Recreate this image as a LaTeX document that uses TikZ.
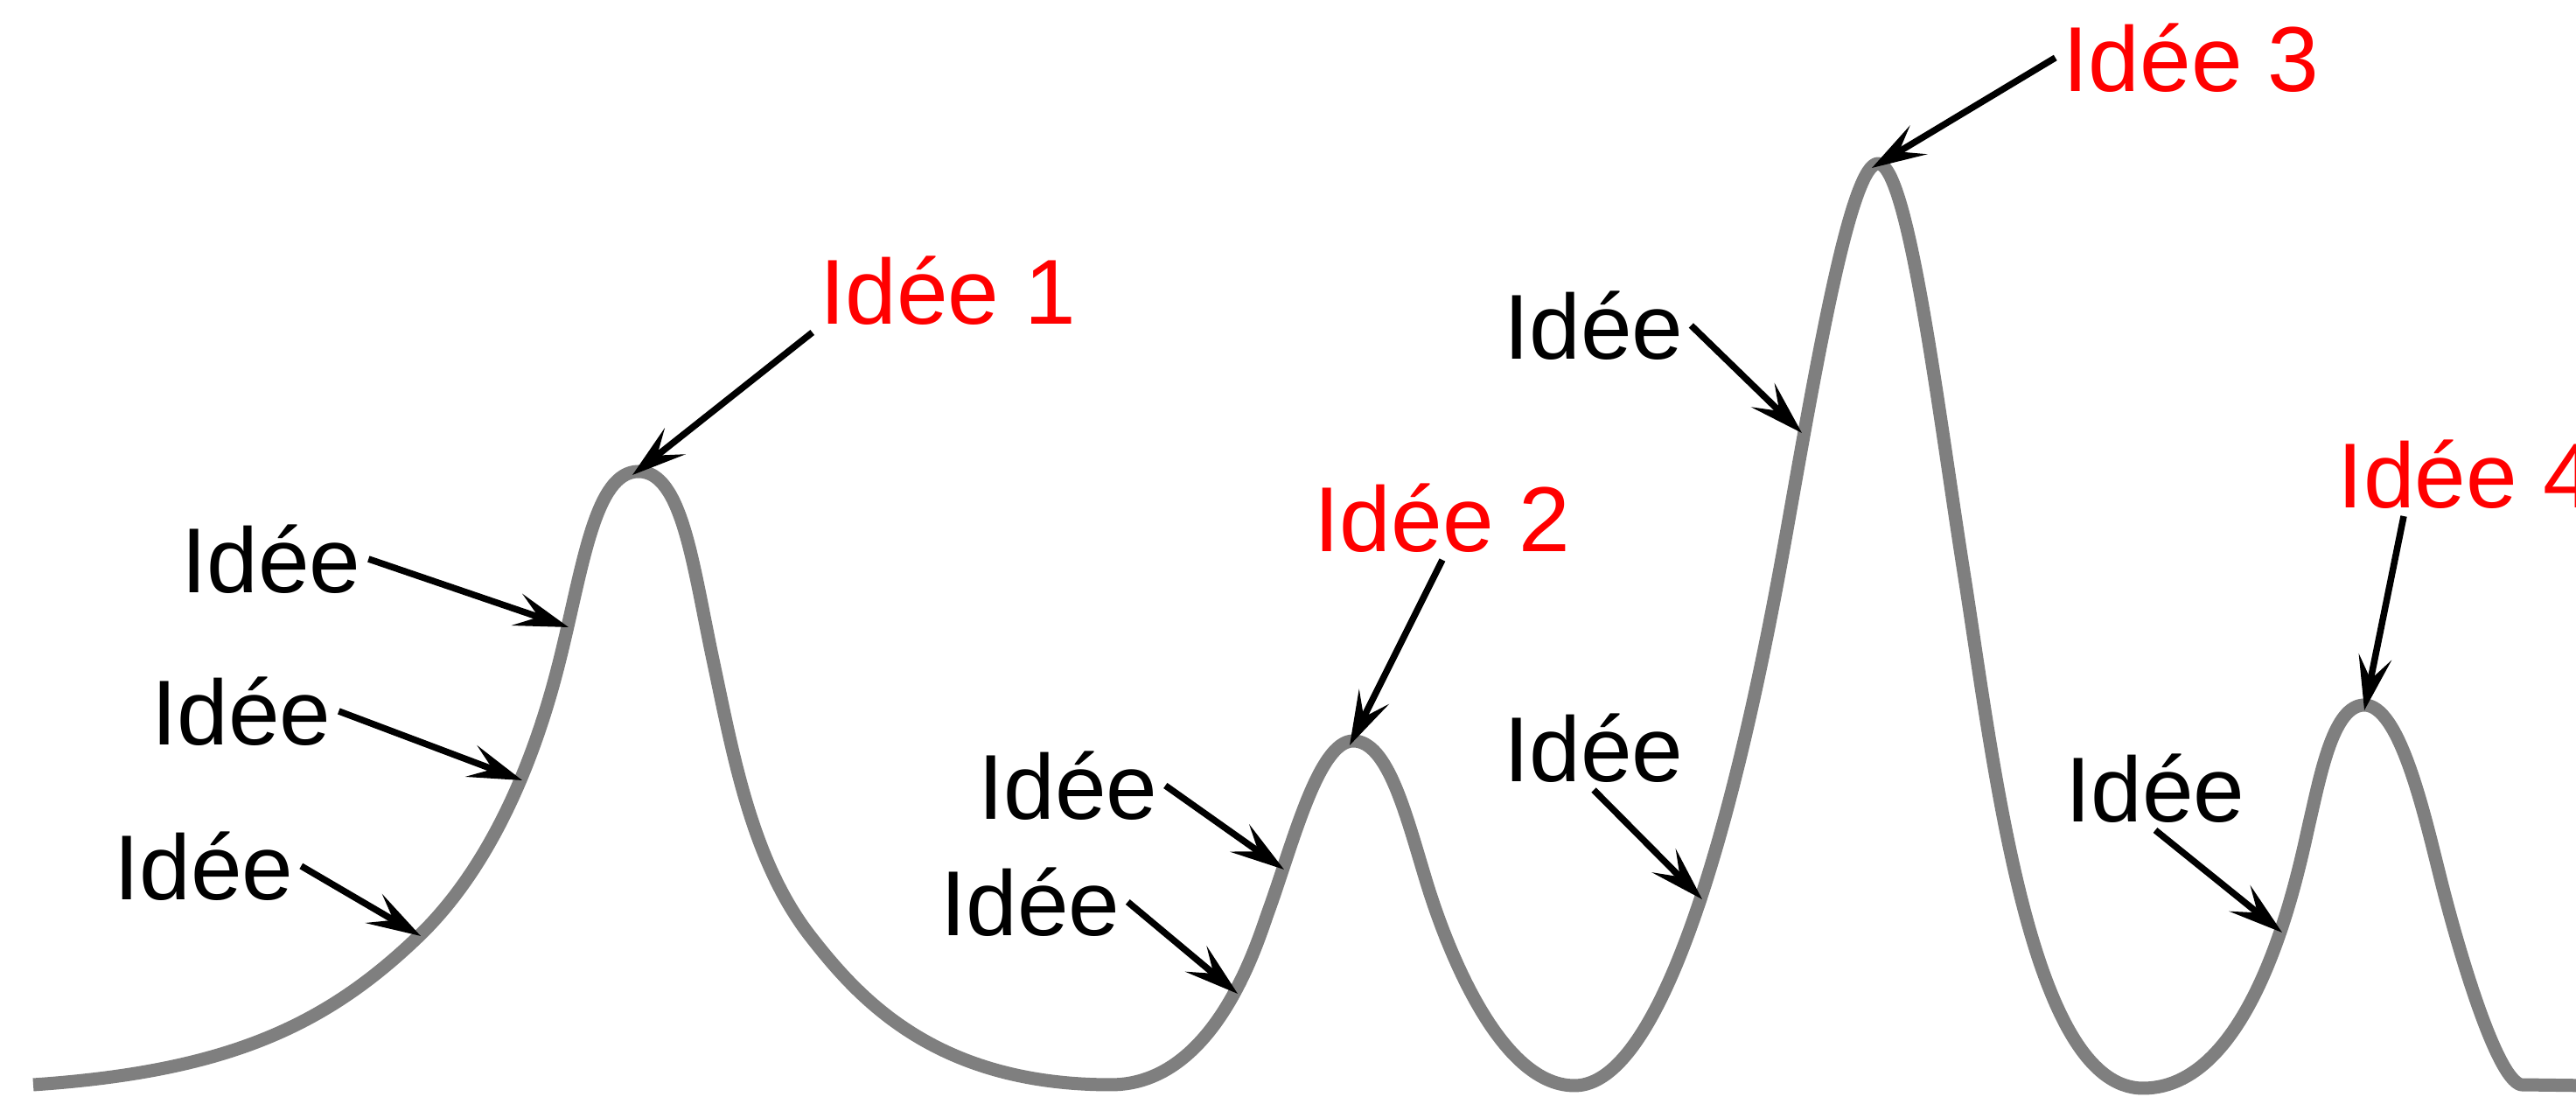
\documentclass[tikz,border=0pt]{standalone}
\usepackage{fontspec}
\setmainfont{Liberation Sans}
\usetikzlibrary{arrows.meta}
\definecolor{ideaRed}{HTML}{FF0000}
\definecolor{curveGray}{HTML}{7F7F7F}

\begin{document}
\begin{tikzpicture}[
  curve/.style={
    draw=curveGray,
    line width=0.15cm,
    line join=round
  },
  idea/.style={
    font=\fontsize{30}{36}\selectfont,
    inner sep=0.08cm
  },
  best/.style={
    idea,
    text=ideaRed
  },
  arrow/.style={
    -{Stealth[length=6.2mm, width=3.8mm, inset=2.6mm]},
    draw=black,
    line width=0.075cm
  }
]
\useasboundingbox (0,0) rectangle (29.45,12.54);

% the line of ideas, hump by hump
\draw[curve] (0.38,0.14)
  .. controls (2.58,0.29) and (3.71,0.80) .. (4.79,1.84)
  .. controls (5.797,2.813) and (6.231,4.321) .. (6.40,5.00)
  .. controls (6.666,6.067) and (6.80,7.15) .. (7.30,7.15)
  .. controls (7.80,7.15) and (7.921,6.076) .. (8.15,5.00)
  .. controls (8.379,3.924) and (8.592,2.697) .. (9.27,1.83)
  .. controls (9.824,1.121) and (10.70,0.14) .. (12.70,0.14)
  .. controls (13.90,0.14) and (14.38,1.791) .. (14.50,2.12)
  .. controls (14.774,2.872) and (15.07,4.07) .. (15.47,4.07)
  .. controls (15.87,4.07) and (16.076,3.215) .. (16.31,2.45)
  .. controls (16.485,1.876) and (17.10,0.13) .. (18.00,0.13)
  .. controls (19.30,0.13) and (20.206,5.221) .. (20.45,6.60)
  .. controls (20.798,8.57) and (21.17,10.67) .. (21.47,10.67)
  .. controls (21.82,10.67) and (22.169,7.778) .. (22.45,6.00)
  .. controls (22.793,3.826) and (23.20,0.10) .. (24.50,0.10)
  .. controls (25.80,0.10) and (26.288,2.643) .. (26.40,3.13)
  .. controls (26.535,3.714) and (26.68,4.48) .. (27.03,4.48)
  .. controls (27.43,4.48) and (27.706,3.276) .. (27.90,2.50)
  .. controls (28.094,1.724) and (28.53,0.218) .. (28.82,0.14)
  -- (29.6,0.13);

% where the arrows land
\coordinate (tipA) at (6.50,5.37);
\coordinate (tipB) at (5.97,3.62);
\coordinate (tipC) at (4.81,1.84);
\coordinate (tipD) at (14.68,2.60);
\coordinate (tipE) at (14.15,1.18);
\coordinate (tipF) at (20.60,7.59);
\coordinate (tipG) at (19.46,2.26);
\coordinate (tipH) at (26.09,1.88);
\coordinate (top1) at (7.23,7.11);
\coordinate (top2) at (15.43,4.02);
\coordinate (top3) at (21.40,10.62);
\coordinate (top4) at (27.03,4.42);

% small ideas
\node[idea] (ideaA) at (3.10,6.15) {Idée};
\node[idea] (ideaB) at (2.76,4.41) {Idée};
\node[idea] (ideaC) at (2.33,2.64) {Idée};
\node[idea] (ideaD) at (12.21,3.56) {Idée};
\node[idea] (ideaE) at (11.78,2.23) {Idée};
\node[idea] (ideaF) at (18.22,8.82) {Idée};
\node[idea] (ideaG) at (18.22,3.99) {Idée};
\node[idea] (ideaH) at (24.64,3.53) {Idée};

% the peaks
\node[best] (best1) at (10.84,9.22) {Idée 1};
\node[best] (best2) at (16.49,6.62) {Idée 2};
\node[best] (best3) at (25.05,11.88) {Idée 3};
\node[best, anchor=west] (best4) at (26.64,7.12) {Idée 4};

\draw[arrow] (ideaA.east) -- (tipA);
\draw[arrow] (ideaB.east) -- (tipB);
\draw[arrow] (ideaC.east) -- (tipC);
\draw[arrow] (ideaD.east) -- (tipD);
\draw[arrow] (ideaE.east) -- (tipE);
\draw[arrow] (ideaF.east) -- (tipF);
\draw[arrow] (ideaG.south) -- (tipG);
\draw[arrow] (ideaH.south) -- (tipH);

\draw[arrow] (best1.south west) -- (top1);
\draw[arrow] (best2.south) -- (top2);
\draw[arrow] (best3.west) -- (top3);
\draw[arrow] ([xshift=0.84cm]best4.south west) -- (top4);

\end{tikzpicture}
\end{document}
